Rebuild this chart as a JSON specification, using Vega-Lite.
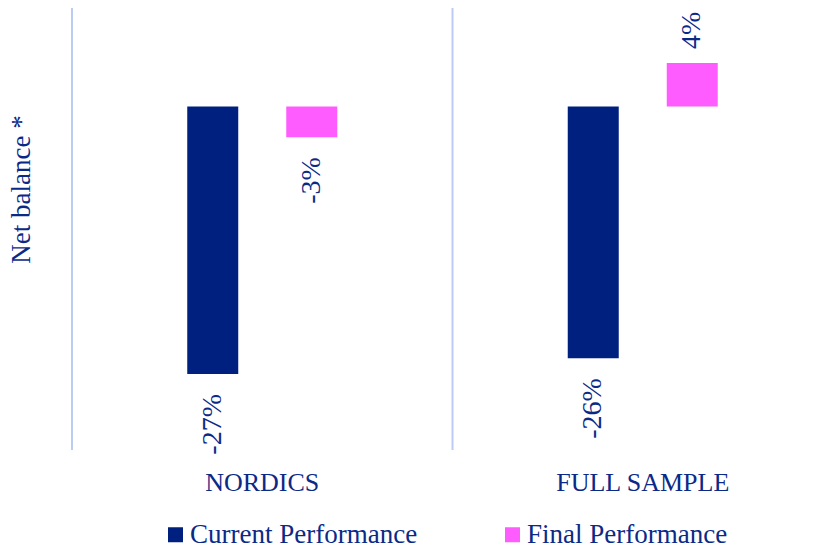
{
  "$schema": "https://vega.github.io/schema/vega-lite/v6.json",
  "width": 761,
  "height": 442,
  "autosize": {"type": "none"},
  "padding": {"left": 72, "top": 8, "right": 0, "bottom": 106},
  "background": "white",
  "config": {"view": {"stroke": null}, "font": "Liberation Serif"},
  "datasets": {
    "bars": [
      {"region": "NORDICS", "series": "Current Performance", "value": -27, "label": "-27%"},
      {"region": "NORDICS", "series": "Final Performance", "value": -3.1, "label": "-3%"},
      {"region": "FULL SAMPLE", "series": "Current Performance", "value": -25.4, "label": "-26%"},
      {"region": "FULL SAMPLE", "series": "Final Performance", "value": 4.4, "label": "4%"}
    ],
    "regions": [
      {"region": "NORDICS"},
      {"region": "FULL SAMPLE"}
    ]
  },
  "layer": [
    {
      "data": {"name": "regions"},
      "mark": {"type": "rule", "color": "#bccbf5", "strokeWidth": 2},
      "encoding": {
        "x": {"field": "region", "type": "nominal", "bandPosition": 0,
              "scale": {"domain": ["NORDICS", "FULL SAMPLE"], "paddingInner": 0, "paddingOuter": 0},
              "axis": {"title": null, "domain": false, "ticks": false, "grid": false, "labelAngle": 0, "labelFont": "Liberation Serif", "labelFontSize": 26, "labelColor": "#0b2a87", "labelPadding": 19}}
      }
    },
    {
      "mark": {"type": "rule", "color": "#c8d5f8", "strokeWidth": 2.5},
      "encoding": {"y": {"datum": 0, "type": "quantitative"}}
    },
    {
      "data": {"name": "bars"},
      "mark": {"type": "bar", "width": 51},
      "encoding": {
        "x": {"field": "region", "type": "nominal",
              "scale": {"domain": ["NORDICS", "FULL SAMPLE"], "paddingInner": 0, "paddingOuter": 0},
              "axis": {"title": null, "domain": false, "ticks": false, "grid": false, "labelAngle": 0, "labelFont": "Liberation Serif", "labelFontSize": 26, "labelColor": "#0b2a87", "labelPadding": 19}},
        "xOffset": {"field": "series", "type": "nominal", "scale": {"paddingInner": 0.157, "paddingOuter": 1}},
        "y": {"field": "value", "type": "quantitative",
              "scale": {"domain": [-34.67, 9.94], "nice": false, "zero": false},
              "axis": {"title": "Net balance *", "labels": false, "ticks": false, "domain": false, "grid": false,
                       "titleFont": "Liberation Serif", "titleFontSize": 27, "titleFontWeight": "normal", "titleColor": "#0b2a87",
                       "titlePadding": 37, "titleY": 181}},
        "color": {"field": "series", "type": "nominal",
                  "scale": {"domain": ["Current Performance", "Final Performance"], "range": ["#00207f", "#ff5cff"]},
                  "legend": {"title": null, "orient": "none", "legendX": 90, "legendY": 513, "direction": "horizontal",
                             "symbolType": "square", "symbolSize": 225, "symbolStrokeWidth": 0, "symbolOpacity": 1,
                             "labelFont": "Liberation Serif", "labelFontSize": 27, "labelColor": "#0b2a87",
                             "labelOffset": 1, "columnPadding": 81, "padding": 0, "labelLimit": 400}}
      }
    },
    {
      "data": {"name": "bars"},
      "transform": [{"filter": "datum.value < 0"}],
      "mark": {"type": "text", "angle": 270, "align": "right", "baseline": "middle", "dx": -20, "fontSize": 28, "color": "#0b2a87", "font": "Liberation Serif"},
      "encoding": {
        "x": {"field": "region", "type": "nominal",
              "scale": {"domain": ["NORDICS", "FULL SAMPLE"], "paddingInner": 0, "paddingOuter": 0},
              "axis": {"title": null, "domain": false, "ticks": false, "grid": false, "labelAngle": 0, "labelFont": "Liberation Serif", "labelFontSize": 26, "labelColor": "#0b2a87", "labelPadding": 19}},
        "xOffset": {"field": "series", "type": "nominal", "scale": {"paddingInner": 0.157, "paddingOuter": 1}},
        "y": {"field": "value", "type": "quantitative"},
        "text": {"field": "label"}
      }
    },
    {
      "data": {"name": "bars"},
      "transform": [{"filter": "datum.value >= 0"}],
      "mark": {"type": "text", "angle": 270, "align": "left", "baseline": "middle", "dx": 14, "fontSize": 28, "color": "#0b2a87", "font": "Liberation Serif"},
      "encoding": {
        "x": {"field": "region", "type": "nominal",
              "scale": {"domain": ["NORDICS", "FULL SAMPLE"], "paddingInner": 0, "paddingOuter": 0},
              "axis": {"title": null, "domain": false, "ticks": false, "grid": false, "labelAngle": 0, "labelFont": "Liberation Serif", "labelFontSize": 26, "labelColor": "#0b2a87", "labelPadding": 19}},
        "xOffset": {"field": "series", "type": "nominal", "scale": {"paddingInner": 0.157, "paddingOuter": 1}},
        "y": {"field": "value", "type": "quantitative"},
        "text": {"field": "label"}
      }
    }
  ]
}
